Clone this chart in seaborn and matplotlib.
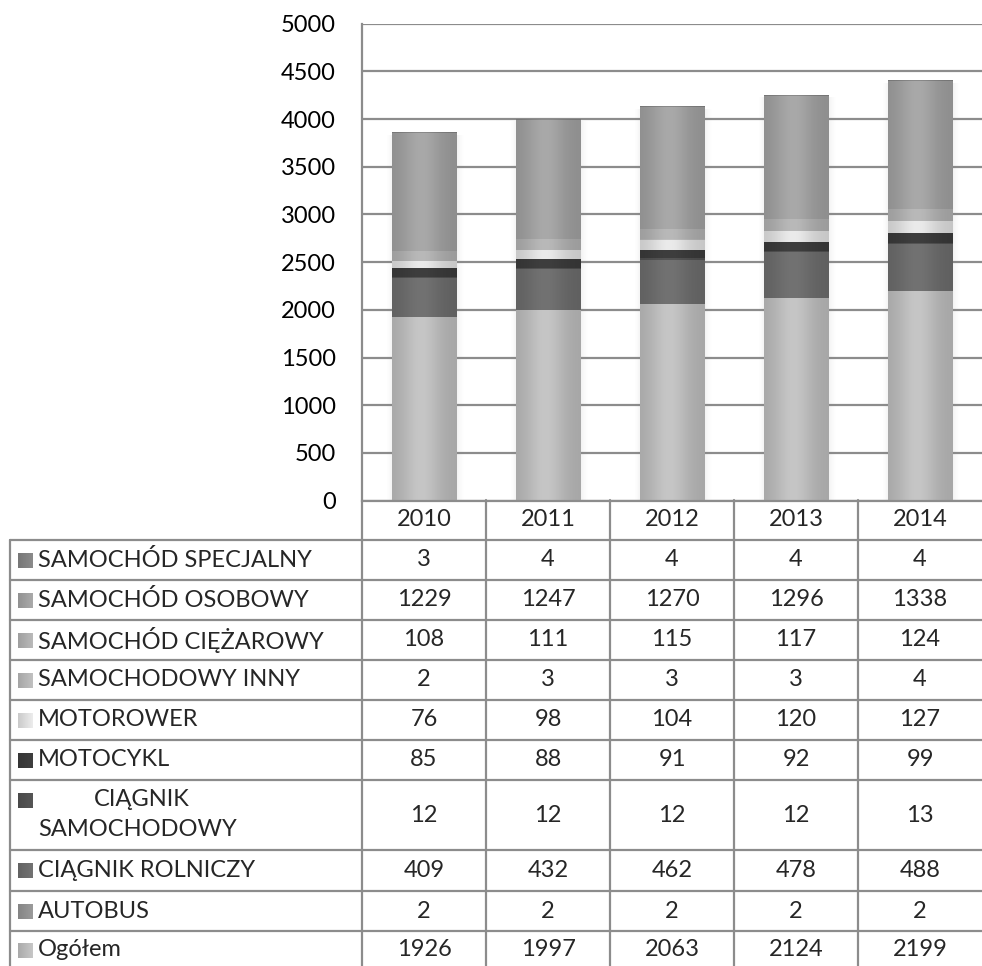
import numpy as np
import matplotlib
matplotlib.use("Agg")
import matplotlib.pyplot as plt
from matplotlib.lines import Line2D
from matplotlib.patches import Rectangle
from matplotlib.colors import to_rgb
import seaborn as sns

# ─────────────────────────────────────────────
# DATA
# ─────────────────────────────────────────────
years = ["2010", "2011", "2012", "2013", "2014"]

ogolem = [1926, 1997, 2063, 2124, 2199]
autobus = [2, 2, 2, 2, 2]
ciagnik_rolniczy = [409, 432, 462, 478, 488]
ciagnik_samochodowy = [12, 12, 12, 12, 13]
motocykl = [85, 88, 91, 92, 99]
motorower = [76, 98, 104, 120, 127]
samochodowy_inny = [2, 3, 3, 3, 4]
samochod_ciezarowy = [108, 111, 115, 117, 124]
samochod_osobowy = [1229, 1247, 1270, 1296, 1338]
samochod_specjalny = [3, 4, 4, 4, 4]

# stack order, bottom -> top
series = [
    ("Ogółem", ogolem, "#c6c6c6"),
    ("AUTOBUS", autobus, "#9a9a9a"),
    ("CIĄGNIK ROLNICZY", ciagnik_rolniczy, "#727272"),
    ("CIĄGNIK SAMOCHODOWY", ciagnik_samochodowy, "#555555"),
    ("MOTOCYKL", motocykl, "#3e3e3e"),
    ("MOTOROWER", motorower, "#ebebeb"),
    ("SAMOCHODOWY INNY", samochodowy_inny, "#c0c0c0"),
    ("SAMOCHÓD CIĘŻAROWY", samochod_ciezarowy, "#b9b9b9"),
    ("SAMOCHÓD OSOBOWY", samochod_osobowy, "#a9a9a9"),
    ("SAMOCHÓD SPECJALNY", samochod_specjalny, "#8a8a8a"),
]

# ─────────────────────────────────────────────
# FIGURE
# ─────────────────────────────────────────────
sns.set_theme(style="white")
plt.rcParams["font.family"] = ["Lato", "DejaVu Sans"]

W, H = 982, 966
fig = plt.figure(figsize=(W / 100, H / 100), dpi=100)


def fx(px):
    return px / W


def fy(py):
    return 1 - py / H


y0_px, y5000_px = 500.6, 23.6
ax = fig.add_axes([fx(362), fy(y0_px), fx(982) - fx(362), fy(y5000_px) - fy(y0_px)])

GRID = "#8c8c8c"
FS = 17
bar_w = 0.52


def shade_profile(n=64):
    t = np.linspace(0, 1, n)
    return 0.84 + 0.16 * np.exp(-((t - 0.45) / 0.3) ** 2)


bottoms = np.zeros(len(years))
for name, vals, col in series:
    sns.barplot(x=years, y=vals, color=col, saturation=1, width=bar_w,
                errorbar=None, ax=ax)
    cont = ax.containers[-1]
    for patch, b, v in zip(cont.patches, bottoms, vals):
        patch.set_y(b)
        patch.set_height(v)
        patch.set_zorder(3)
        patch.set_linewidth(0)
        # cylinder-like horizontal shading
        img = np.clip(np.outer(shade_profile(), to_rgb(col)), 0, 1)[None, :, :]
        x0 = patch.get_x()
        ax.imshow(img, extent=[x0, x0 + bar_w, b, b + v], aspect="auto",
                  interpolation="bicubic", zorder=4)
    bottoms = bottoms + np.array(vals)

# soft shadows beside the bars
for i, tot in enumerate(bottoms):
    sh = np.zeros((1, 32, 4))
    sh[..., :3] = 0.45
    sh[0, :, 3] = np.linspace(0.22, 0.0, 32) ** 1.5
    ax.imshow(sh, extent=[i + bar_w / 2, i + bar_w / 2 + 0.07, 0, tot - 20],
              aspect="auto", interpolation="bilinear", zorder=2.5)
    ax.imshow(sh[:, ::-1, :], extent=[i - bar_w / 2 - 0.05, i - bar_w / 2, 0, tot - 20],
              aspect="auto", interpolation="bilinear", zorder=2.5)

ax.set_xlim(-0.5, 4.5)
ax.set_ylim(0, 5000)
ax.set_yticks(range(0, 5001, 500))
ax.set_xticks([])
ax.set_xlabel("")
ax.set_ylabel("")
ax.yaxis.grid(True, color=GRID, linewidth=1.6)
ax.set_axisbelow(True)
for s in ["top", "right", "bottom"]:
    ax.spines[s].set_visible(False)
ax.spines["left"].set_color(GRID)
ax.spines["left"].set_linewidth(1.6)
ax.tick_params(axis="y", length=0, pad=19, labelsize=FS, labelcolor="black")

# ─────────────────────────────────────────────
# DATA TABLE
# ─────────────────────────────────────────────
col_edges = [362, 486, 610, 734, 858, 982]
col_centers = [(a + b) / 2 for a, b in zip(col_edges[:-1], col_edges[1:])]
row_edges = [540, 580, 620, 660, 700, 740, 780, 850, 891, 931, 971]


def hline(py, x1, x2):
    fig.add_artist(Line2D([fx(x1), fx(x2)], [fy(py), fy(py)], color=GRID, lw=1.6))


def vline(px, y1, y2):
    fig.add_artist(Line2D([fx(px), fx(px)], [fy(y1), fy(y2)], color=GRID, lw=1.6))


hline(500.6, 362, 982)
for r in row_edges[:-1]:
    hline(r, 10, 982)
vline(10, 540, 966)
vline(362, 500, 966)
for c in col_edges[1:-1]:
    vline(c, 500, 966)

for yr, xc in zip(years, col_centers):
    fig.text(fx(xc), fy(520), yr, ha="center", va="center", fontsize=FS)

table_rows = list(reversed(series))
for k, (name, vals, col) in enumerate(table_rows):
    top, bot = row_edges[k], row_edges[k + 1]
    if k == len(table_rows) - 1:
        bot = 969
    yc = (top + bot) / 2
    sy = yc - 15 if name == "CIĄGNIK SAMOCHODOWY" else yc
    # legend key with a left-to-right gradient
    for j in range(15):
        c = np.clip(np.array(to_rgb(col)) * (0.86 + 0.14 * j / 14), 0, 1)
        fig.add_artist(Rectangle((fx(18 + j), fy(sy + 7.5)), fx(1.05), fy(0) - fy(15),
                                 facecolor=c, edgecolor="none"))
    if name == "CIĄGNIK SAMOCHODOWY":
        fig.text(fx(94), fy(yc - 15), "CIĄGNIK", ha="left", va="center", fontsize=FS)
        fig.text(fx(38), fy(yc + 15), "SAMOCHODOWY", ha="left", va="center", fontsize=FS)
    else:
        fig.text(fx(38), fy(yc), name, ha="left", va="center", fontsize=FS)
    for v, xc in zip(vals, col_centers):
        fig.text(fx(xc), fy(yc), str(v), ha="center", va="center", fontsize=FS)

fig.savefig("out.png", dpi=100)
